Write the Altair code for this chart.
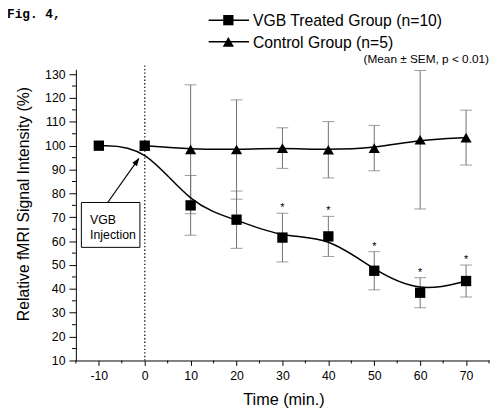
import altair as alt
import pandas as pd

# ---- data ----
times = [-10, 0, 10, 20, 30, 40, 50, 60, 70]
vgb_mean = [100, 100, 75, 69, 61.5, 62, 47.6, 38.4, 43.3]
vgb_sem = [0, 0, 12.5, 12, 10.2, 8.4, 8, 6.3, 6.7]
vgb_sig = [False, False, False, False, True, True, True, True, True]

ctrl_times = [0, 10, 20, 30, 40, 50, 60, 70]
ctrl_mean = [100, 98.5, 98.4, 99, 98.3, 99, 102.5, 103.4]
ctrl_sem = [0, 27, 20.8, 8.5, 11.8, 9.5, 29, 11.5]

x_major = [-10, 0, 10, 20, 30, 40, 50, 60, 70]
x_minor = [-15, -5, 5, 15, 25, 35, 45, 55, 65, 75]
y_major = [10, 20, 30, 40, 50, 60, 70, 80, 90, 100, 110, 120, 130]
y_minor = [15, 25, 35, 45, 55, 65, 75, 85, 95, 105, 115, 125]

series_names = ["VGB Treated Group (n=10)", "Control Group (n=5)"]
note_text = "(Mean \u00b1 SEM, p < 0.01)"
fig_label = "Fig. 4,"
annot_lines = ["VGB", "Injection"]

W, H = 420, 296
FONT = "Liberation Sans"
ERR_COLOR = "#707070"

vgb = pd.DataFrame({"t": times, "m": vgb_mean, "s": vgb_sem, "sig": vgb_sig})
vgb["lo"] = vgb["m"] - vgb["s"]
vgb["hi"] = vgb["m"] + vgb["s"]
ctrl = pd.DataFrame({"t": ctrl_times, "m": ctrl_mean, "s": ctrl_sem})
ctrl["lo"] = ctrl["m"] - ctrl["s"]
ctrl["hi"] = ctrl["m"] + ctrl["s"]
err = pd.concat([vgb[["t", "lo", "hi", "s"]], ctrl[["t", "lo", "hi", "s"]]])
err = err[err["s"] > 0]
stars = vgb[vgb["sig"]]

xs = alt.Scale(domain=[-15, 75], nice=False, zero=False)
ys = alt.Scale(domain=[10, 132], nice=False, zero=False)

x_axis = alt.Axis(
    values=x_major, labelExpr="'' + datum.value", labelOverlap=False,
    tickSize=5, grid=False, domainColor="black", tickColor="black", labelColor="black",
    labelFont=FONT, labelFontSize=12.5, labelPadding=4,
    title="Time (min.)", titleFont=FONT, titleFontSize=16.5, titleFontWeight="normal",
    titleX=211, titleY=45, titleBaseline="alphabetic", titleAlign="center",
)
y_axis = alt.Axis(
    values=y_major, labelExpr="'' + datum.value", labelOverlap=False,
    tickSize=7, grid=False, domainColor="black", tickColor="black", labelColor="black",
    labelFont=FONT, labelFontSize=12.5, labelPadding=4,
    title="Relative fMRI Signal Intensity (%)", titleFont=FONT, titleFontSize=16,
    titleFontWeight="normal", titleX=-53, titleY=136.5, titleAlign="center",
    titleBaseline="middle", titleAngle=-90,
)


def X(f):
    return alt.X(f, scale=xs, axis=x_axis)


def Y(f):
    return alt.Y(f, scale=ys, axis=y_axis)


one = pd.DataFrame({"a": [0]})

# dotted injection line at t=0
inj = alt.Chart(pd.DataFrame({"t": [0]})).mark_rule(
    color="#333333", strokeWidth=1.5, strokeDash=[1.4, 2.2]
).encode(x=X("t:Q"), y=alt.value(-4), y2=alt.value(H))

# minor ticks
ymin_ticks = alt.Chart(pd.DataFrame({"v": y_minor})).mark_rule(color="black", strokeWidth=1).encode(
    y=Y("v:Q"), x=alt.value(-4), x2=alt.value(0)
)
xmin_ticks = alt.Chart(pd.DataFrame({"v": x_minor})).mark_rule(color="black", strokeWidth=1).encode(
    x=X("v:Q"), y=alt.value(H), y2=alt.value(H + 3)
)

# error bars
err_rule = alt.Chart(err).mark_rule(color=ERR_COLOR, strokeWidth=1).encode(
    x=X("t:Q"), y=Y("lo:Q"), y2="hi:Q"
)
cap_lo = alt.Chart(err).mark_tick(color=ERR_COLOR, size=12, thickness=1, orient="horizontal").encode(
    x=X("t:Q"), y=Y("lo:Q")
)
cap_hi = alt.Chart(err).mark_tick(color=ERR_COLOR, size=12, thickness=1, orient="horizontal").encode(
    x=X("t:Q"), y=Y("hi:Q")
)

# curves
vgb_line = alt.Chart(vgb).mark_line(color="black", strokeWidth=1.5, interpolate="basis").encode(
    x=X("t:Q"), y=Y("m:Q")
)
ctrl_line = alt.Chart(ctrl).mark_line(color="black", strokeWidth=1.5, interpolate="basis").encode(
    x=X("t:Q"), y=Y("m:Q")
)
vgb_pts = alt.Chart(vgb).mark_point(shape="square", filled=True, size=110, color="black", opacity=1).encode(
    x=X("t:Q"), y=Y("m:Q")
)
ctrl_pts = alt.Chart(ctrl).mark_point(shape="triangle-up", filled=True, size=130, color="black", opacity=1).encode(
    x=X("t:Q"), y=Y("m:Q")
)
star_txt = alt.Chart(stars).mark_text(
    text="*", font=FONT, fontSize=11, color="black", baseline="alphabetic", dy=-2
).encode(x=X("t:Q"), y=Y("hi:Q"))

# annotation box with arrow
box = alt.Chart(pd.DataFrame({"x1": [-13.8], "x2": [-1.05], "y1": [57.4], "y2": [76.2]})).mark_rect(
    fill="white", stroke="black", strokeWidth=1
).encode(x=X("x1:Q"), x2="x2:Q", y=Y("y1:Q"), y2="y2:Q")
annot = alt.Chart(pd.DataFrame({"x": [-11.9, -11.9], "y": [67.4, 60.9], "txt": annot_lines})).mark_text(
    font=FONT, fontSize=12.5, align="left", baseline="alphabetic", color="black"
).encode(x=X("x:Q"), y=Y("y:Q"), text="txt:N")
arrow_line = alt.Chart(pd.DataFrame({"x1": [-8.07], "y1": [76.2], "x2": [-1.3], "y2": [94.6]})).mark_rule(
    color="black", strokeWidth=1.2
).encode(x=X("x1:Q"), y=Y("y1:Q"), x2="x2:Q", y2="y2:Q")
arrow_head = alt.Chart(pd.DataFrame({"x": [-1.2], "y": [94.8]})).mark_point(
    shape="M0,0L-0.36,1L0.36,1Z", size=256, filled=True, color="black", opacity=1, angle=35.5
).encode(x=X("x:Q"), y=Y("y:Q"))

# manual legend (outside plot, above)
def leg_row(yy, shape, name, sz):
    ln = alt.Chart(one).mark_rule(color="black", strokeWidth=1.5).encode(
        x=alt.value(135), x2=alt.value(176), y=alt.value(yy)
    )
    pt = alt.Chart(one).mark_point(shape=shape, filled=True, size=sz, color="black", opacity=1).encode(
        x=alt.value(155), y=alt.value(yy)
    )
    tx = alt.Chart(one).mark_text(text=name, font=FONT, fontSize=16, align="left",
                                  baseline="middle", color="black").encode(
        x=alt.value(180), y=alt.value(yy + 1)
    )
    return [ln, pt, tx]

legend = leg_row(-50, "square", series_names[0], 110) + leg_row(-28, "triangle-up", series_names[1], 130)
note = alt.Chart(one).mark_text(text=note_text, font=FONT, fontSize=12, align="right",
                                baseline="middle", color="black").encode(
    x=alt.value(420), y=alt.value(-10)
)
fig = alt.Chart(one).mark_text(text=fig_label, font="Liberation Mono", fontSize=13, fontWeight="bold",
                               align="left", baseline="middle", color="black").encode(
    x=alt.value(-70), y=alt.value(-56)
)

chart = alt.layer(
    inj, ymin_ticks, xmin_ticks, err_rule, cap_lo, cap_hi, vgb_line, ctrl_line,
    vgb_pts, ctrl_pts, star_txt, box, annot, arrow_line, arrow_head, *legend, note, fig
).properties(
    width=W, height=H,
    autosize=alt.AutoSizeParams(type="none"),
    padding={"left": 69, "top": 59, "right": 1, "bottom": 48},
    background="white",
).configure_view(stroke=None).configure_axis(titleFontWeight="normal", labelOverlap=False)

chart.save("out.html", embed_options={"renderer": "svg", "actions": False})
